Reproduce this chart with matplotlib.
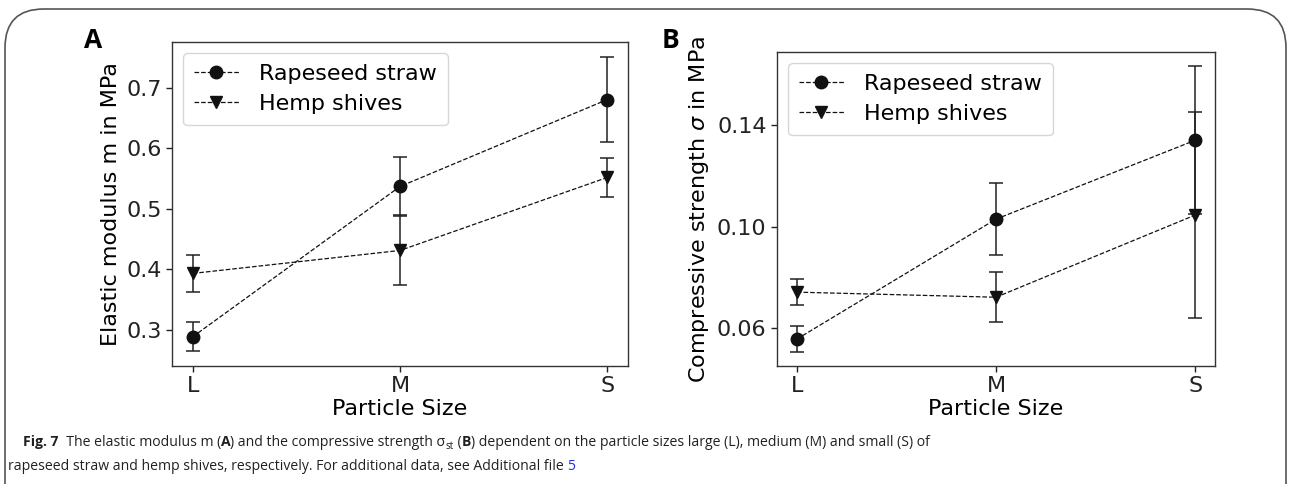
import matplotlib
matplotlib.use("Agg")
import matplotlib.pyplot as plt
from matplotlib.patches import FancyBboxPatch

sizes = ["L", "M", "S"]
series = ["Rapeseed straw", "Hemp shives"]

modulus_rapeseed = [0.288, 0.537, 0.681]
modulus_rapeseed_err = [0.024, 0.049, 0.071]
modulus_hemp = [0.393, 0.431, 0.552]
modulus_hemp_err = [0.031, 0.058, 0.033]

strength_rapeseed = [0.0557, 0.1030, 0.1341]
strength_rapeseed_err = [0.0050, 0.0142, 0.0292]
strength_hemp = [0.0742, 0.0722, 0.1046]
strength_hemp_err = [0.0050, 0.0099, 0.0405]

W, H = 1290, 484
fig = plt.figure(figsize=(W / 100, H / 100), dpi=100)
fig.patch.set_facecolor("white")

FS = 16

def style_axes(ax):
    for s in ax.spines.values():
        s.set_color("#333333")
        s.set_linewidth(1.0)
    ax.tick_params(labelsize=FS, colors="#222222", length=4, width=1)

def panel(ax, r, re, h, he, ylabel):
    x = list(range(len(sizes)))
    c1 = ax.errorbar(x, r, yerr=re, fmt="o--", color="#111111", ecolor="#222222",
                     lw=0.9, elinewidth=1.1, capsize=5, capthick=1.1, markersize=9,
                     label=series[0])
    c2 = ax.errorbar(x, h, yerr=he, fmt="v--", color="#111111", ecolor="#222222",
                     lw=0.9, elinewidth=1.1, capsize=5, capthick=1.1, markersize=9,
                     label=series[1])
    ax.set_xticks(x)
    ax.set_xticklabels(sizes)
    ax.set_xlabel("Particle Size", fontsize=FS, labelpad=2)
    ax.set_ylabel(ylabel, fontsize=FS, labelpad=4)
    style_axes(ax)
    ax.legend([c1[0], c2[0]], series, loc="upper left", fontsize=FS, handlelength=2.0,
              borderpad=0.5, labelspacing=0.45, handletextpad=0.9)

axA = fig.add_axes([172 / W, 1 - 366 / H, (628 - 172) / W, (366 - 42) / H])
panel(axA, modulus_rapeseed, modulus_rapeseed_err, modulus_hemp, modulus_hemp_err,
      "Elastic modulus m in MPa")
axA.set_yticks([0.3, 0.4, 0.5, 0.6, 0.7])

axB = fig.add_axes([777 / W, 1 - 366 / H, (1215 - 777) / W, (366 - 52) / H])
panel(axB, strength_rapeseed, strength_rapeseed_err, strength_hemp, strength_hemp_err,
      r"Compressive strength $\sigma$ in MPa")
axB.set_yticks([0.06, 0.10, 0.14])
axB.set_yticklabels(["0.06", "0.10", "0.14"])

fig.text(93 / W, 1 - 40 / H, "A", fontsize=19, fontweight="bold", ha="center", va="center",
         family="Open Sans")
fig.text(670 / W, 1 - 40 / H, "B", fontsize=19, fontweight="bold", ha="center", va="center",
         family="Open Sans")

# frame around the figure
box = FancyBboxPatch((5 / W, -0.2), (W - 9) / W, 1 - 9 / H + 0.2,
                     boxstyle="round,pad=0,rounding_size=0.03",
                     transform=fig.transFigure, fill=False, edgecolor="#555555",
                     linewidth=1.2, mutation_aspect=W / H)
fig.add_artist(box)

# caption
cap_font = "Open Sans"
ccol = "#231f20"

line1 = [("Fig. 7", "bold", ccol, 0, 1.0), ("  The elastic modulus m (", "normal", ccol, 0, 1.0),
         ("A", "bold", ccol, 0, 1.0), (") and the compressive strength σ", "normal", ccol, 0, 1.0),
         ("st", "normal", ccol, -3, 0.7), (" (", "normal", ccol, 0, 1.0), ("B", "bold", ccol, 0, 1.0),
         (") dependent on the particle sizes large (L), medium (M) and small (S) of", "normal", ccol, 0, 1.0)]
line2 = [("rapeseed straw and hemp shives, respectively. For additional data, see Additional file ", "normal", ccol, 0, 1.0),
         ("5", "normal", "#2b2bd9", 0, 1.0)]

fig.canvas.draw()
renderer = fig.canvas.get_renderer()

def measure(pieces, size):
    total = 0
    for txt, wt, col, dy, sc in pieces:
        t = fig.text(0, 0, txt, fontsize=size * sc, fontweight=wt, family=cap_font)
        total += t.get_window_extent(renderer=renderer).width
        t.remove()
    return total

base = 10.0
target = 930 - 23
cap_size = base * target / measure(line1, base)

def draw_line(pieces, x0, ybase):
    x = x0
    for txt, wt, col, dy, sc in pieces:
        t = fig.text(x / W, 1 - (ybase - dy) / H, txt, fontsize=cap_size * sc,
                     fontweight=wt, color=col, family=cap_font, va="baseline", ha="left")
        bb = t.get_window_extent(renderer=renderer)
        x += bb.width

draw_line(line1, 23, 446)
draw_line(line2, 8, 470)

fig.savefig("out.png", dpi=100, facecolor="white")
